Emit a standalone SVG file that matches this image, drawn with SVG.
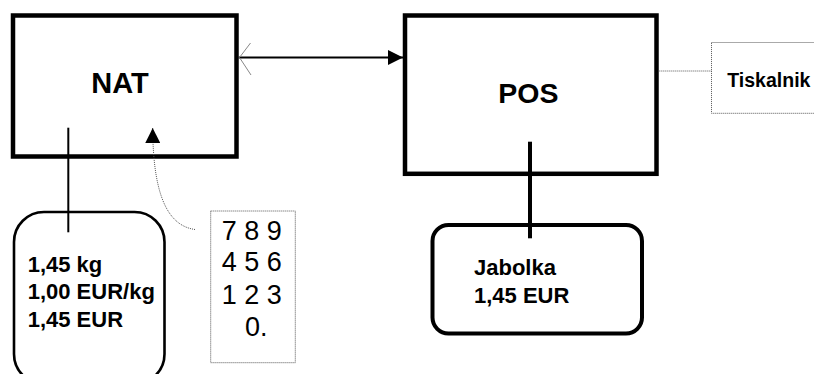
<svg xmlns="http://www.w3.org/2000/svg" width="814" height="374" viewBox="0 0 814 374">
<style>
.box{fill:#fff;stroke:#000;stroke-width:4.5}
.rbox{fill:#fff;stroke:#000}
.dot{fill:none;stroke:#555;stroke-width:1;stroke-dasharray:1 1}
.b{font-family:"Liberation Sans",Arial,sans-serif;font-weight:bold;fill:#000}
.r{font-family:"Liberation Sans",Arial,sans-serif;fill:#000}
.ln{fill:none;stroke:#000}
</style>
<defs>
<marker id="ah" markerUnits="userSpaceOnUse" viewBox="0 0 15 15" refX="15" refY="7.5" markerWidth="15" markerHeight="15" orient="auto">
<path d="M0,0 L15,7.5 L0,15 Z" fill="#000"/>
</marker>
</defs>
<rect width="814" height="374" fill="#fff"/>
<g id="nat">
<rect class="box" x="13" y="15.5" width="223.5" height="141"/>
<text class="b" x="120" y="92.7" font-size="29" text-anchor="middle">NAT</text>
</g>
<g id="pos">
<rect class="box" x="405" y="15.5" width="251.5" height="158.3"/>
<text class="b" x="528.3" y="102.7" font-size="28.5" text-anchor="middle">POS</text>
</g>
<g id="tiskalnik">
<rect class="dot" x="711.5" y="42.5" width="120" height="70.8"/>
<text class="b" x="727.3" y="86.7" font-size="19.5">Tiskalnik</text>
</g>
<g id="jabolka">
<rect class="rbox" x="432.5" y="225" width="209.5" height="108.5" rx="16" ry="16" stroke-width="4"/>
<text class="b" x="474" y="275" font-size="22">Jabolka</text>
<text class="b" x="474" y="302.7" font-size="22">1,45 EUR</text>
</g>
<g id="tehtnica">
<rect class="rbox" x="14" y="212" width="150.5" height="172" rx="30" ry="30" stroke-width="2.6"/>
<text class="b" x="27.7" y="271.7" font-size="22">1,45 kg</text>
<text class="b" x="27.7" y="299.3" font-size="22">1,00 EUR/kg</text>
<text class="b" x="27.7" y="326.7" font-size="22">1,45 EUR</text>
</g>
<g id="tipkovnica">
<rect class="dot" x="210.7" y="211" width="84.6" height="151.7"/>
<text class="r" x="221.7" y="240" font-size="27">7 8 9</text>
<text class="r" x="221.7" y="271" font-size="27">4 5 6</text>
<text class="r" x="221.7" y="304.3" font-size="27">1 2 3</text>
<text class="r" x="245" y="336" font-size="27">0.</text>
</g>
<g id="connectors">
<line class="ln" x1="238.7" y1="57.5" x2="403" y2="57.5" stroke-width="2" marker-end="url(#ah)"/>
<polyline points="250.5,43 239.5,57.5 251,75" fill="none" stroke="#888" stroke-width="1"/>
<line class="dot" x1="658.7" y1="71" x2="711.5" y2="71"/>
<line class="ln" x1="68.3" y1="127.7" x2="68.3" y2="232.3" stroke-width="2"/>
<line class="ln" x1="530" y1="141.7" x2="530" y2="238.3" stroke-width="4"/>
<path class="dot" d="M195,229.5 C170,226 153,200 152.7,128" marker-end="url(#ah)"/>
</g>
</svg>
